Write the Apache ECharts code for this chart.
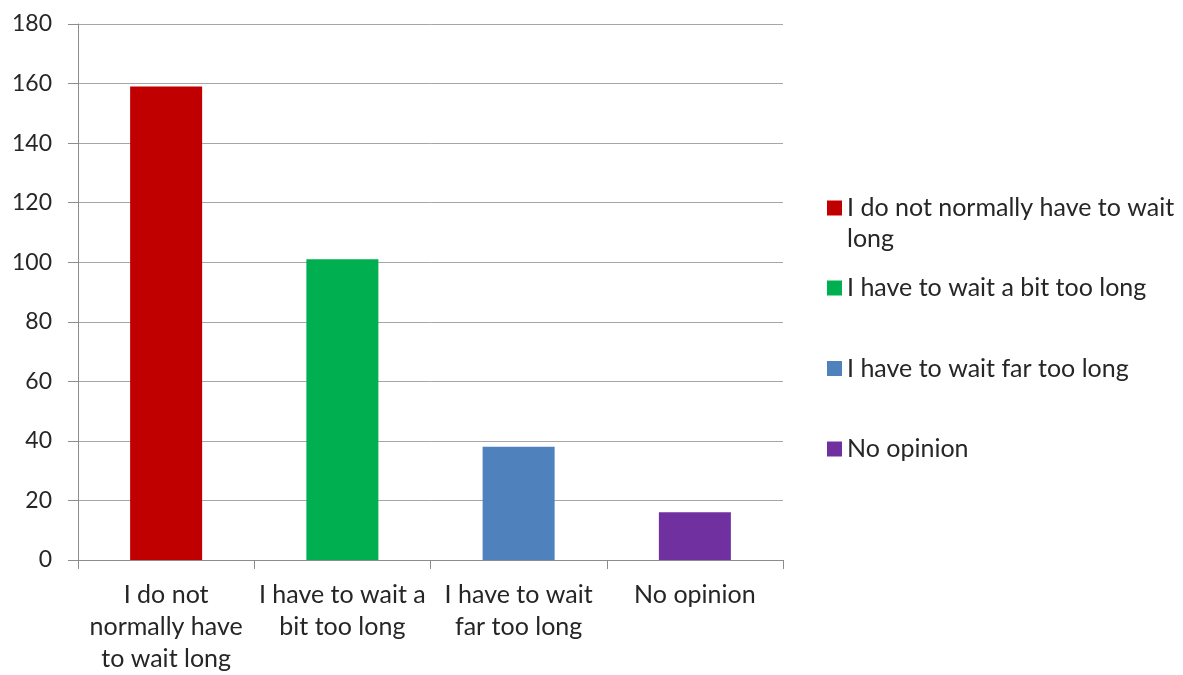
<!DOCTYPE html>
<html>
<head>
<meta charset="utf-8">
<script src="https://cdn.jsdelivr.net/npm/echarts@6/dist/echarts.min.js"></script>
<style>html,body{margin:0;padding:0;background:#fff;}#c{width:1183px;height:675px;}</style>
</head>
<body>
<div id="c"></div>
<script>
const categories = ['I do not normally have to wait long', 'I have to wait a bit too long', 'I have to wait far too long', 'No opinion'];
const axisLabelLines = ['I do not\nnormally have\nto wait long', 'I have to wait a\nbit too long', 'I have to wait\nfar too long', 'No opinion'];
const legendLines = ['\nI do not normally have to wait\nlong', 'I have to wait a bit too long', 'I have to wait far too long', 'No opinion'];
const values = [159, 101, 38, 16];
const colors = ['#C00000', '#00B050', '#4F81BD', '#7030A0'];
const yTicks = [0, 20, 40, 60, 80, 100, 120, 140, 160, 180];

const FONT = 'Lato';
const TXT = '#262626';

const series = categories.map((name, i) => ({
  name: name,
  type: 'bar',
  stack: 'all',
  barWidth: 72,
  itemStyle: { color: colors[i] },
  data: values.map((v, j) => (j === i ? v : '-'))
}));

const legendTops = [161.5, 272.5, 353, 433.5];
const legends = categories.map((name, i) => ({
  data: [name],
  orient: 'vertical',
  left: 827,
  top: legendTops[i],
  padding: 0,
  itemWidth: 15,
  itemHeight: 15,
  icon: 'rect',
  selectedMode: false,
  formatter: () => legendLines[i],
  textStyle: {
    fontFamily: FONT,
    fontSize: 25,
    color: TXT,
    lineHeight: 31
  }
}));

const chart = echarts.init(document.getElementById('c'), null, { renderer: 'canvas' });
chart.setOption({
  animation: false,
  backgroundColor: '#ffffff',
  grid: { left: 78, top: 24, width: 705, height: 538, containLabel: false },
  legend: legends,
  xAxis: {
    type: 'category',
    data: categories,
    boundaryGap: true,
    axisLine: { show: true, lineStyle: { color: '#8c8c8c', width: 1 } },
    axisTick: { show: true, length: 9, interval: 0, lineStyle: { color: '#8c8c8c' } },
    axisLabel: {
      interval: 0,
      margin: 19,
      fontFamily: FONT,
      fontSize: 25,
      lineHeight: 32,
      color: TXT,
      formatter: (v) => axisLabelLines[categories.indexOf(v)]
    },
    splitLine: { show: false }
  },
  yAxis: {
    type: 'value',
    min: yTicks[0],
    max: yTicks[yTicks.length - 1],
    interval: yTicks[1] - yTicks[0],
    axisLine: { show: true, lineStyle: { color: '#8c8c8c', width: 1 } },
    axisTick: { show: true, length: 10, lineStyle: { color: '#8c8c8c' } },
    axisLabel: { margin: 26, fontFamily: FONT, fontSize: 23, color: TXT },
    splitLine: { show: true, lineStyle: { color: '#a6a6a6', width: 1 } }
  },
  series: series
});
</script>
</body>
</html>
